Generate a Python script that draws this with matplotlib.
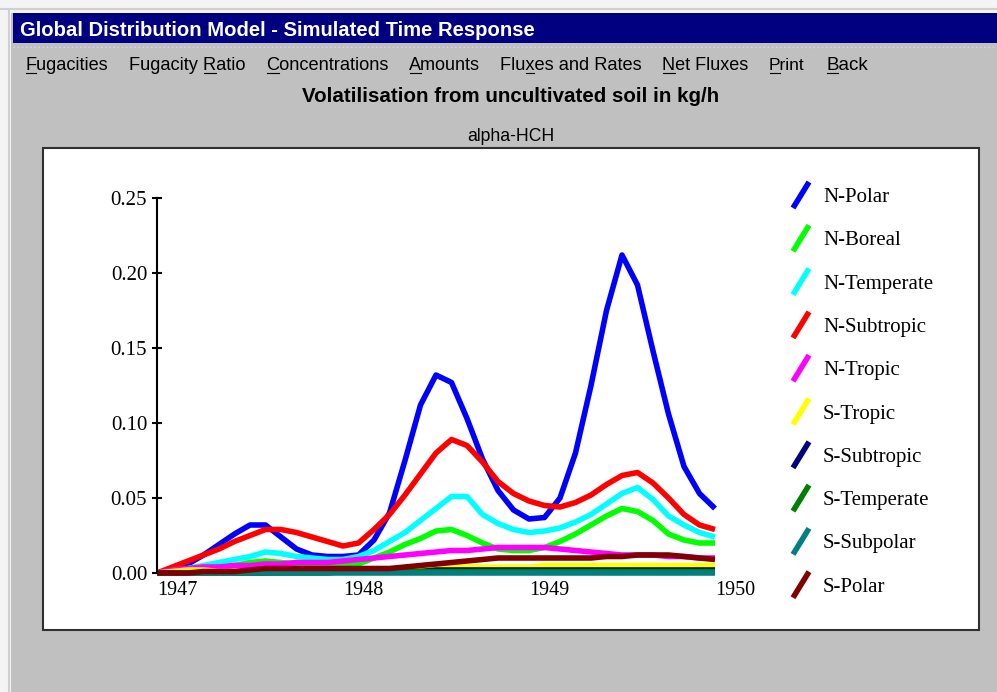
import matplotlib
matplotlib.use('Agg')
import matplotlib.pyplot as plt
import numpy as np
from matplotlib.patches import Rectangle
from matplotlib.lines import Line2D

# ---------------- data ----------------
series_names = ['N-Polar', 'N-Boreal', 'N-Temperate', 'N-Subtropic', 'N-Tropic',
                'S-Tropic', 'S-Subtropic', 'S-Temperate', 'S-Subpolar', 'S-Polar']
series_colors = ['#0000FF', '#00FF00', '#00FFFF', '#FF0000', '#FF00FF',
                 '#FFFF00', '#000080', '#008000', '#008080', '#800000']

# monthly samples from Jan 1947 to Jan 1950
years = 1947 + np.arange(37) / 12.0

n_polar = [0.000, 0.002, 0.006, 0.012, 0.019, 0.026, 0.032, 0.032, 0.024, 0.016, 0.012, 0.011,
           0.011, 0.012, 0.022, 0.040, 0.075, 0.112, 0.132, 0.127, 0.103, 0.076, 0.055, 0.042,
           0.036, 0.037, 0.050, 0.080, 0.125, 0.175, 0.212, 0.192, 0.148, 0.106, 0.071, 0.053, 0.043]
n_boreal = [0.000, 0.001, 0.002, 0.003, 0.004, 0.005, 0.007, 0.008, 0.007, 0.006, 0.005, 0.005,
            0.005, 0.006, 0.010, 0.014, 0.019, 0.023, 0.028, 0.029, 0.025, 0.020, 0.016, 0.015,
            0.015, 0.017, 0.021, 0.026, 0.032, 0.038, 0.043, 0.041, 0.035, 0.026, 0.022, 0.020, 0.020]
n_temperate = [0.000, 0.001, 0.003, 0.005, 0.007, 0.009, 0.011, 0.014, 0.013, 0.011, 0.010, 0.009,
               0.009, 0.011, 0.015, 0.021, 0.027, 0.035, 0.043, 0.051, 0.051, 0.039, 0.033, 0.029,
               0.027, 0.028, 0.030, 0.034, 0.039, 0.046, 0.053, 0.057, 0.049, 0.038, 0.032, 0.027, 0.024]
n_subtropic = [0.000, 0.004, 0.008, 0.012, 0.016, 0.021, 0.025, 0.029, 0.029, 0.027, 0.024, 0.021,
               0.018, 0.020, 0.029, 0.039, 0.052, 0.066, 0.080, 0.089, 0.085, 0.074, 0.061, 0.053,
               0.048, 0.045, 0.044, 0.047, 0.052, 0.059, 0.065, 0.067, 0.060, 0.050, 0.039, 0.032, 0.029]
n_tropic = [0.000, 0.002, 0.003, 0.004, 0.004, 0.005, 0.005, 0.006, 0.006, 0.007, 0.007, 0.007,
            0.008, 0.009, 0.010, 0.011, 0.012, 0.013, 0.014, 0.015, 0.015, 0.016, 0.017, 0.017,
            0.017, 0.017, 0.016, 0.015, 0.014, 0.013, 0.012, 0.012, 0.012, 0.011, 0.011, 0.010, 0.010]
s_tropic = [0.000, 0.001, 0.002, 0.002, 0.001, 0.001, 0.001, 0.001, 0.001, 0.001, 0.001, 0.001,
            0.002, 0.002, 0.002, 0.002, 0.002, 0.003, 0.004, 0.004, 0.004, 0.004, 0.004, 0.004,
            0.004, 0.005, 0.005, 0.005, 0.005, 0.005, 0.005, 0.005, 0.005, 0.005, 0.005, 0.005, 0.005]
s_subtropic = [0.000, 0.000, 0.000, 0.000, 0.000, 0.000, 0.000, 0.000, 0.001, 0.001, 0.001, 0.001,
               0.001, 0.001, 0.001, 0.001, 0.001, 0.001, 0.002, 0.002, 0.002, 0.002, 0.002, 0.002,
               0.002, 0.002, 0.002, 0.002, 0.002, 0.002, 0.002, 0.002, 0.002, 0.002, 0.002, 0.002, 0.002]
s_temperate = [0.000, 0.000, 0.000, 0.000, 0.000, 0.000, 0.000, 0.000, 0.000, 0.000, 0.000, 0.000,
               0.001, 0.001, 0.001, 0.001, 0.001, 0.001, 0.001, 0.001, 0.001, 0.001, 0.001, 0.001,
               0.001, 0.001, 0.001, 0.001, 0.001, 0.001, 0.001, 0.001, 0.001, 0.001, 0.001, 0.001, 0.001]
s_subpolar = [0.000, 0.000, 0.000, 0.000, 0.000, 0.000, 0.000, 0.000, 0.000, 0.000, 0.000, 0.000,
              0.000, 0.000, 0.000, 0.000, 0.000, 0.000, 0.000, 0.000, 0.000, 0.000, 0.000, 0.000,
              0.000, 0.000, 0.000, 0.000, 0.000, 0.000, 0.000, 0.000, 0.000, 0.000, 0.000, 0.000, 0.000]
s_polar = [0.000, 0.000, 0.000, 0.001, 0.001, 0.001, 0.002, 0.003, 0.003, 0.003, 0.003, 0.003,
           0.003, 0.003, 0.003, 0.003, 0.004, 0.005, 0.006, 0.007, 0.008, 0.009, 0.010, 0.010,
           0.010, 0.010, 0.010, 0.010, 0.010, 0.011, 0.011, 0.012, 0.012, 0.012, 0.011, 0.010, 0.009]

series_values = [n_polar, n_boreal, n_temperate, n_subtropic, n_tropic,
                 s_tropic, s_subtropic, s_temperate, s_subpolar, s_polar]

ytick_values = [0.00, 0.05, 0.10, 0.15, 0.20, 0.25]
ytick_labels = ['0.00', '0.05', '0.10', '0.15', '0.20', '0.25']
xtick_values = [1947, 1948, 1949, 1950]
xtick_labels = ['1947', '1948', '1949', '1950']

window_title = 'Global Distribution Model - Simulated Time Response'
menu_items = [('Fugacities', 0, 25, 108), ('Fugacity Ratio', 9, 129, 246),
              ('Concentrations', 0, 266, 389), ('Amounts', 0, 409, 480),
              ('Fluxes and Rates', 3, 500, 642), ('Net Fluxes', 0, 662, 748),
              ('Print', 0, 769, 805), ('Back', 0, 826, 868)]
chart_title = 'Volatilisation from uncultivated soil in kg/h'
chart_subtitle = 'alpha-HCH'

# ---------------- figure ----------------
W, H = 997, 692
fig = plt.figure(figsize=(W / 100, H / 100), dpi=100, facecolor='#C0C0C0')
renderer = fig.canvas.get_renderer()


def fx(x):
    return x / W


def fy(y):
    return 1 - y / H


def rect(x0, y0, x1, y1, **kw):
    r = Rectangle((fx(x0), fy(y1)), (x1 - x0) / W, (y1 - y0) / H,
                  transform=fig.transFigure, **kw)
    fig.add_artist(r)
    return r


def hline(x0, x1, y, **kw):
    fig.add_artist(Line2D([fx(x0), fx(x1)], [fy(y), fy(y)], transform=fig.transFigure, **kw))


def vline(x, y0, y1, **kw):
    fig.add_artist(Line2D([fx(x), fx(x)], [fy(y0), fy(y1)], transform=fig.transFigure, **kw))


def fit_text(x0, x1, y, s, **kw):
    t = fig.text(fx(x0), fy(y), s, fontsize=10, va='baseline', ha='left', **kw)
    w = t.get_window_extent(renderer).width
    t.set_fontsize(10 * (x1 - x0) / w)
    return t


def text_width(s, t):
    if not s:
        return 0.0
    tmp = fig.text(0, 0, s, fontsize=t.get_fontsize(), fontfamily=t.get_fontfamily(),
                   fontweight=t.get_fontweight())
    w = tmp.get_window_extent(renderer).width
    tmp.remove()
    return w


# window frame
rect(0, 0, W, 13, facecolor='#F4F4F4', edgecolor='none', zorder=0)
hline(0, W, 8.5, color='#D0D0D0', lw=1.5, zorder=0.5)
rect(0, 0, 11, H, facecolor='#F4F4F4', edgecolor='none', zorder=0)
vline(9, 8.5, H, color='#D0D0D0', lw=1.5, zorder=0.5)
rect(13, 13, W, 43, facecolor='#000080', edgecolor='none', zorder=0)
hline(13, W, 47, color='#D8D8E4', lw=1, linestyle=(0, (1, 2)), zorder=0.5)

# window title
fit_text(20, 535, 36, window_title, color='white', fontweight='bold', fontfamily='Liberation Sans')

# menu bar
for label, uidx, x0, x1 in menu_items:
    t = fit_text(x0, x1, 70, label, color='black', fontfamily='Liberation Sans')
    wa = text_width(label[:uidx], t)
    wb = text_width(label[:uidx + 1], t)
    hline(x0 + wa + 0.5, x0 + wb - 0.5, 72.5, color='black', lw=0.8)

# chart titles
fit_text(302, 718, 102, chart_title, color='black', fontweight='bold', fontfamily='Liberation Sans')
fit_text(467, 554, 141, chart_subtitle, color='black', fontfamily='Liberation Sans')

# white chart panel
rect(43, 148, 979, 630, facecolor='white', edgecolor='#303030', lw=1.5, zorder=0)

# axes
ax = fig.add_axes([fx(157), fy(573), (715 - 157) / W, (573 - 198) / H])
ax.set_zorder(10)
ax.set_xlim(1947, 1950)
ax.set_ylim(0, 0.25)
ax.patch.set_visible(False)
for s in ['top', 'right', 'bottom']:
    ax.spines[s].set_visible(False)
ax.spines['left'].set_linewidth(1.5)
ax.spines['left'].set_zorder(5)

ax.set_yticks(ytick_values)
ax.set_yticklabels(ytick_labels, fontfamily='Liberation Serif', fontsize=15)
ax.tick_params(axis='y', direction='inout', length=7.2, width=1.5, pad=3.5, colors='black')
ax.set_xticks(xtick_values)
ax.set_xticklabels(xtick_labels, fontfamily='Liberation Serif', fontsize=14.5)
ax.tick_params(axis='x', length=0, pad=6)
for lab in ax.get_xticklabels():
    lab.set_horizontalalignment('left')

for name, vals, col in zip(series_names, series_values, series_colors):
    ax.plot(years, vals, color=col, lw=4.0, clip_on=False,
            solid_joinstyle='round', solid_capstyle='butt', label=name)

# legend (diagonal strokes as in the original)
for i, (name, col) in enumerate(zip(series_names, series_colors)):
    yc = 195 + i * 43.3
    fig.add_artist(Line2D([fx(793), fx(809)], [fy(yc + 13), fy(yc - 13)],
                          transform=fig.transFigure, color=col, lw=4.0,
                          solid_capstyle='butt', zorder=2))
    fig.text(fx(823), fy(yc + 7), name, fontfamily='Liberation Serif', fontsize=15,
             va='baseline', ha='left', color='black', zorder=2)

fig.savefig('out.png', dpi=100, facecolor=fig.get_facecolor())
